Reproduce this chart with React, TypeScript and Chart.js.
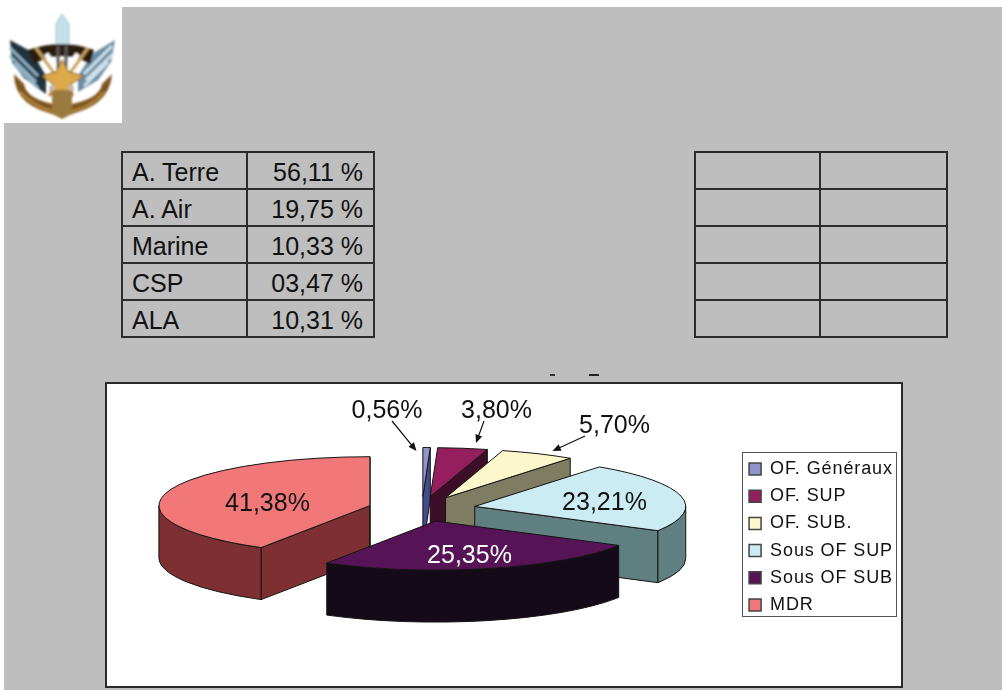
import React, { useEffect, useRef } from "react";
import { Chart, registerables } from "chart.js";

Chart.register(...registerables);

// ---------- data ----------
const categories = ["OF. Généraux", "OF. SUP", "OF. SUB.", "Sous OF SUP", "Sous OF SUB", "MDR"];
const shares = [0.56, 3.8, 5.7, 23.21, 25.35, 41.38];
const armyRows = ["A. Terre", "A. Air", "Marine", "CSP", "ALA"];
const armyValues = ["56,11 %", "19,75 %", "10,33 %", "03,47 %", "10,31 %"];

// ---------- style ----------
const topColors = ["#9393CB", "#951E5F", "#FCF8CC", "#CCECF3", "#561457", "#F27779"];
const wallColors = ["#454C8E", "#3C0E28", "#7E7D62", "#5F7F80", "#150A18", "#7E2F31"];
const labelColors = ["#111", "#111", "#111", "#111", "#fff", "#111"];
const labelCentres = [[280, 25], [389.5, 25], [507.5, 40], [497.5, 117], [362.5, 170], [160.5, 117.5]];
const calloutArrows: (number[] | null)[] = [
  [285, 37, 309.5, 67],
  [377, 37, 369, 59],
  [478, 52, 445.5, 67],
  null,
  null,
  null,
];
const RADIUS = 211;
const SQUASH = 0.232;
const DEPTH = 52;
const TOP_LIFT = 28;
const SIDE_SHIFT = -1.5;
const EXPLODE_OPTION = 216; // Chart.js draws arcs shifted by offset / 4

const pie3dPlugin = {
  id: "pie3d",
  beforeUpdate(chart: any) {
    (chart.ctx as any).letterSpacing = "0.9px";
  },
  beforeDatasetDraw(chart: any) {
    const ctx = chart.ctx;
    (ctx as any).letterSpacing = "0px";
    const arcs = chart.getDatasetMeta(0).data as any[];
    const slices = arcs.map((arc, i) => {
      const mid = (arc.startAngle + arc.endAngle) / 2;
      const off = arc.options.offset / 4;
      return {
        i,
        s: arc.startAngle,
        e: arc.endAngle,
        r: arc.outerRadius,
        x: arc.x + SIDE_SHIFT + Math.cos(mid) * off,
        y: arc.y - TOP_LIFT + Math.sin(mid) * off * SQUASH,
      };
    });
    slices.sort((a, b) => a.y - b.y);
    ctx.save();
    ctx.lineWidth = 1;
    ctx.lineJoin = "round";
    ctx.strokeStyle = "#141414";
    for (const sl of slices) {
      const rx = sl.r;
      const ry = sl.r * SQUASH;
      const px = (a: number) => sl.x + rx * Math.cos(a);
      const py = (a: number) => sl.y + ry * Math.sin(a);
      ctx.fillStyle = wallColors[sl.i];
      const radial = (a: number) => {
        ctx.beginPath();
        ctx.moveTo(sl.x, sl.y);
        ctx.lineTo(px(a), py(a));
        ctx.lineTo(px(a), py(a) + DEPTH);
        ctx.lineTo(sl.x, sl.y + DEPTH);
        ctx.closePath();
        ctx.fill();
        ctx.stroke();
      };
      if (Math.cos(sl.s) < 0) radial(sl.s);
      if (Math.cos(sl.e) > 0) radial(sl.e);
      const a0 = Math.max(sl.s, 0);
      const a1 = Math.min(sl.e, Math.PI);
      if (a1 > a0) {
        ctx.beginPath();
        ctx.ellipse(sl.x, sl.y, rx, ry, 0, a0, a1, false);
        ctx.lineTo(px(a1), py(a1) + DEPTH);
        ctx.ellipse(sl.x, sl.y + DEPTH, rx, ry, 0, a1, a0, true);
        ctx.closePath();
        ctx.fill();
        ctx.stroke();
      }
      ctx.fillStyle = topColors[sl.i];
      ctx.beginPath();
      ctx.moveTo(sl.x, sl.y);
      ctx.ellipse(sl.x, sl.y, rx, ry, 0, sl.s, sl.e, false);
      ctx.closePath();
      ctx.fill();
      ctx.stroke();
    }
    ctx.restore();
    return false;
  },
  afterDatasetsDraw(chart: any) {
    const ctx = chart.ctx;
    ctx.save();
    (ctx as any).letterSpacing = "0px";
    ctx.font = '25px "Liberation Sans", Arial, sans-serif';
    ctx.textAlign = "center";
    ctx.textBaseline = "alphabetic";
    const values = chart.data.datasets[0].data as number[];
    values.forEach((v, i) => {
      ctx.fillStyle = labelColors[i];
      ctx.fillText(v.toFixed(2).replace(".", ",") + "%", labelCentres[i][0], labelCentres[i][1] + 9);
      const ar = calloutArrows[i];
      if (ar) {
        const [x0, y0, x1, y1] = ar;
        const t = Math.atan2(y1 - y0, x1 - x0);
        ctx.strokeStyle = "#111";
        ctx.fillStyle = "#111";
        ctx.lineWidth = 1.2;
        ctx.beginPath();
        ctx.moveTo(x0, y0);
        ctx.lineTo(x1 - 6 * Math.cos(t), y1 - 6 * Math.sin(t));
        ctx.stroke();
        ctx.beginPath();
        ctx.moveTo(x1, y1);
        ctx.lineTo(x1 - 9 * Math.cos(t - 0.4), y1 - 9 * Math.sin(t - 0.4));
        ctx.lineTo(x1 - 9 * Math.cos(t + 0.4), y1 - 9 * Math.sin(t + 0.4));
        ctx.closePath();
        ctx.fill();
      }
    });
    ctx.restore();
  },
  afterDraw(chart: any) {
    const ctx = chart.ctx;
    const boxes = chart.legend.legendHitBoxes as any[];
    const first = boxes[0];
    const last = boxes[boxes.length - 1];
    const right = Math.max(...boxes.map((b) => b.left + b.width));
    ctx.save();
    ctx.strokeStyle = "#555";
    ctx.lineWidth = 1;
    ctx.strokeRect(
      Math.round(first.left - 7) + 0.5,
      Math.round(first.top - 8) + 0.5,
      Math.round(right - first.left + 10),
      Math.round(last.top + last.height - first.top + 10)
    );
    ctx.restore();
  },
};

function Emblem() {
  return (
    <svg width={130} height={130} viewBox="0 0 130 130" style={{ position: "absolute", left: 0, top: 0 }}>
      <defs>
        <filter id="soft">
          <feGaussianBlur stdDeviation="1" />
        </filter>
      </defs>
      <rect x={4} y={7} width={118} height={116} fill="#fff" />
      <g filter="url(#soft)">
        <path d="M56 46 L56 24 L62 14 L69 24 L69 46 Z" fill="#c6e0e8" stroke="#9fc0cc" />
        <path d="M10 40 L12 62 L24 78 L46 94 L46 76 L32 52 Z" fill="#20303c" />
        <path d="M10 48 L38 76 M10 56 L36 82 M14 64 L38 88" stroke="#8fb0c4" strokeWidth={3} fill="none" />
        <path d="M115 40 L111 62 L98 80 L78 92 L78 76 L92 54 Z" fill="#6c8ca3" />
        <path d="M112 46 L84 74 M113 54 L86 80 M108 62 L84 86" stroke="#cfe0ea" strokeWidth={3} fill="none" />
        <path d="M28 50 Q62 38 94 50 L90 64 Q62 48 34 64 Z" fill="#2a1a0c" />
        <path d="M36 48 L62 84 L88 48" stroke="#c9a05a" strokeWidth={3} fill="none" />
        <path d="M46 54 L62 76 L78 54" stroke="#fff" strokeWidth={5} fill="none" />
        <path d="M58 46 L58 70 M66 46 L66 70" stroke="#5a5a5a" strokeWidth={3} fill="none" />
        <path d="M14 74 Q14 108 62 116 Q110 108 112 74 L102 84 Q100 100 62 106 Q26 100 24 84 Z" fill="#7e5620" />
        <path d="M20 92 Q40 112 62 112 Q86 112 104 92" stroke="#b8893c" strokeWidth={2} fill="none" />
        <path d="M62 60 L69 72 L84 76 L71 84 L73 96 L62 90 L49 96 L53 84 L42 76 L56 72 Z" fill="#dba94a" stroke="#7e5620" />
        <path d="M52 90 L52 114 L62 119 L72 114 L72 90 Z" fill="#9b7a3e" />
        <circle cx={52} cy={88} r={3} fill="#c8b8b0" />
        <circle cx={71} cy={88} r={3} fill="#c8b8b0" />
      </g>
    </svg>
  );
}

function SideTable({ left, names, values }: { left: number; names: string[]; values: string[] }) {
  const cell: React.CSSProperties = {
    border: "2px solid #2c2c2c",
    padding: 0,
    paddingTop: 2,
    boxSizing: "border-box",
    fontFamily: '"Liberation Sans", Arial, sans-serif',
    fontSize: 25,
    color: "#111",
    lineHeight: "32px",
    overflow: "hidden",
    whiteSpace: "nowrap",
  };
  return (
    <table
      style={{
        position: "absolute",
        left,
        top: 151,
        width: 254,
        height: 185,
        borderCollapse: "collapse",
        tableLayout: "fixed",
      }}
    >
      <tbody>
        {names.map((n, i) => (
          <tr key={i} style={{ height: 37 }}>
            <td style={{ ...cell, width: 125, paddingLeft: 9 }}>{n}</td>
            <td style={{ ...cell, textAlign: "right", paddingRight: 10 }}>{values[i]}</td>
          </tr>
        ))}
      </tbody>
    </table>
  );
}

export default function App() {
  const ref = useRef<HTMLCanvasElement>(null);
  useEffect(() => {
    const chart = new Chart(ref.current!, {
      type: "pie",
      data: {
        labels: categories,
        datasets: [
          {
            data: shares,
            backgroundColor: topColors,
            borderColor: "#444",
            borderWidth: 1.5,
            offset: EXPLODE_OPTION,
          },
        ],
      },
      options: {
        animation: false,
        responsive: false,
        radius: RADIUS,
        layout: { padding: { right: -2, left: -9, top: 4 } },
        plugins: {
          tooltip: { enabled: false },
          legend: {
            position: "right",
            align: "center",
            labels: {
              boxWidth: 12,
              boxHeight: 12,
              padding: 9.2,
              color: "#111",
              font: { family: '"Liberation Sans", Arial, sans-serif', size: 18 },
            },
          },
        },
      } as any,
      plugins: [pie3dPlugin],
    });
    return () => chart.destroy();
  }, []);
  return (
    <div style={{ position: "fixed", left: 0, top: 0, width: 1002, height: 690, background: "#fff", overflow: "hidden" }}>
      <div style={{ position: "absolute", left: 4, top: 7, width: 998, height: 683, background: "#BEBEBE" }} />
      <Emblem />
      <SideTable left={121} names={armyRows} values={armyValues} />
      <SideTable left={694} names={armyRows.map(() => "")} values={armyValues.map(() => "")} />
      <div style={{ position: "absolute", left: 550, top: 374, width: 5, height: 2, background: "#333" }} />
      <div style={{ position: "absolute", left: 589, top: 374, width: 10, height: 2, background: "#222" }} />
      <div
        style={{
          position: "absolute",
          left: 105,
          top: 382,
          width: 798,
          height: 306,
          boxSizing: "border-box",
          border: "2px solid #2a2a2a",
          background: "#fff",
        }}
      >
        <canvas ref={ref} width={794} height={302} style={{ display: "block", width: 794, height: 302 }} />
      </div>
    </div>
  );
}
